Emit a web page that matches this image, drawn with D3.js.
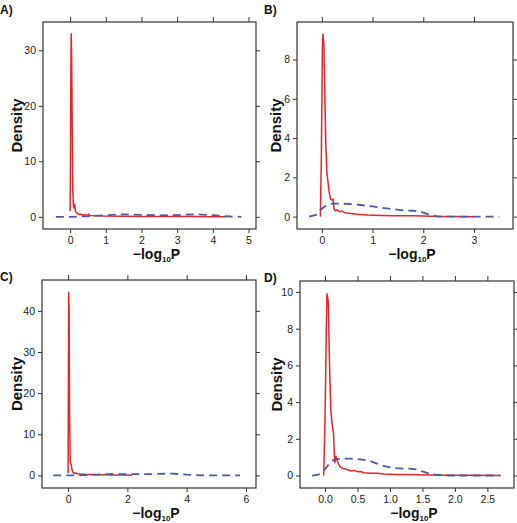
<!DOCTYPE html>
<html><head><meta charset="utf-8">
<script src="https://cdn.jsdelivr.net/npm/d3@7/dist/d3.min.js"></script>
<style>body{margin:0;background:#fff}svg{display:block}</style>
</head><body>
<script>
// ---- data (x = -log10 P, y = density) ----
const redA = [[0.0,1],[0.01,10],[0.02,25],[0.03,33],[0.045,28],[0.06,15],[0.075,5],[0.09,2.2],[0.11,1.6],[0.13,2.3],[0.15,1.0],[0.2,0.6],[0.25,0.4],[0.3,0.45],[0.35,0.3],[0.4,0.35],[0.5,0.3],[0.52,0.5],[0.55,0.25],[0.7,0.2],[1,0.12],[1.5,0.08],[2,0.06],[2.5,0.05],[3,0.04],[3.5,0.03],[4,0.02],[4.4,0.0]];
const blueA = [[-0.4,0],[0,0],[0.5,0.1],[1,0.3],[1.5,0.45],[2,0.35],[2.5,0.25],[3,0.3],[3.5,0.45],[4,0.3],[4.5,0.05],[4.8,0]];
const redB = [[-0.03,0],[-0.01,3],[0.01,8.5],[0.02,9.3],[0.04,8.8],[0.06,6],[0.08,3.5],[0.1,2.2],[0.12,1.8],[0.14,1.3],[0.17,0.9],[0.2,0.85],[0.22,0.9],[0.24,0.4],[0.26,0.3],[0.3,0.35],[0.35,0.25],[0.4,0.28],[0.45,0.2],[0.5,0.18],[0.6,0.15],[0.7,0.12],[0.8,0.1],[0.9,0.08],[1,0.07],[1.2,0.06],[1.4,0.05],[1.6,0.04],[1.8,0.05],[2.0,0.03],[2.3,0.01],[2.6,0.01],[3.0,0]];
const blueB = [[-0.25,0],[-0.1,0.1],[0,0.4],[0.1,0.6],[0.2,0.66],[0.4,0.66],[0.6,0.63],[0.8,0.58],[1.0,0.52],[1.2,0.45],[1.4,0.38],[1.6,0.32],[1.8,0.3],[1.95,0.25],[2.1,0.12],[2.25,0.02],[2.4,0],[3.5,0]];
const redC = [[0,0.5],[0.01,20],[0.02,44.5],[0.035,40],[0.05,15],[0.07,4],[0.09,2.8],[0.11,2.5],[0.13,1.5],[0.16,0.8],[0.2,0.5],[0.25,0.6],[0.3,0.4],[0.4,0.35],[0.5,0.3],[0.6,0.25],[0.8,0.2],[1,0.18],[1.2,0.15],[1.5,0.12],[1.8,0.1],[2.0,0.08],[2.15,0.05]];
const blueC = [[-0.5,0],[0,0],[0.5,0.05],[1,0.2],[1.5,0.35],[2,0.3],[2.5,0.3],[3,0.35],[3.5,0.45],[4,0.2],[4.5,0.03],[5,0],[5.8,0]];
const redD = [[-0.02,0],[0,3],[0.02,8],[0.03,9.9],[0.05,9.5],[0.07,6],[0.09,3.5],[0.11,2.8],[0.13,2.3],[0.15,0.7],[0.17,1.05],[0.19,0.8],[0.21,0.6],[0.24,0.45],[0.28,0.38],[0.32,0.35],[0.36,0.3],[0.4,0.25],[0.45,0.28],[0.5,0.2],[0.55,0.22],[0.6,0.15],[0.7,0.12],[0.8,0.13],[0.9,0.08],[1.0,0.07],[1.1,0.06],[1.2,0.05],[1.4,0.04],[1.6,0.03],[1.8,0.02],[2.0,0.01],[2.3,0.01],[2.7,0]];
const blueD = [[-0.2,0],[-0.1,0.05],[0,0.35],[0.1,0.8],[0.2,0.9],[0.3,0.92],[0.4,0.92],[0.5,0.9],[0.6,0.85],[0.7,0.78],[0.8,0.65],[0.9,0.52],[1.0,0.45],[1.1,0.4],[1.2,0.38],[1.3,0.38],[1.4,0.34],[1.5,0.22],[1.6,0.12],[1.7,0.05],[1.8,0.02],[1.9,0],[2.7,0]];

const panelLabels = ["A)", "B)", "C)", "D)"];
const xTicksA = [0,1,2,3,4,5], yTicksA = [0,10,20,30];
const xTicksB = [0,1,2,3], yTicksB = [0,2,4,6,8];
const xTicksC = [0,2,4,6], yTicksC = [0,10,20,30,40];
const xTicksD = [0,0.5,1,1.5,2,2.5], yTicksD = [0,2,4,6,8,10];
const yLabel = "Density";

// ---- layout ----
const panels = [
  {lab: panelLabels[0], red: redA, blue: blueA, xt: xTicksA, yt: yTicksA, xf: d3.format("d"),
   box: [43,22,256,229], xd: [-0.76,5.21], yd: [-2.2,35.1], lp: [0,14], ylx: 22},
  {lab: panelLabels[1], red: redB, blue: blueB, xt: xTicksB, yt: yTicksB, xf: d3.format("d"),
   box: [297,22,513,229], xd: [-0.49,3.77], yd: [-0.63,9.91], lp: [264,14], ylx: 281},
  {lab: panelLabels[2], red: redC, blue: blueC, xt: xTicksC, yt: yTicksC, xf: d3.format("d"),
   box: [42,280,256,488], xd: [-0.88,6.34], yd: [-3.06,47.5], lp: [0,281], ylx: 22},
  {lab: panelLabels[3], red: redD, blue: blueD, xt: xTicksD, yt: yTicksD, xf: d3.format(".1f"),
   box: [300,281,514,488], xd: [-0.385,2.91], yd: [-0.68,10.6], lp: [264,282], ylx: 282}
];

const svg = d3.select("body").append("svg").attr("width",517).attr("height",523)
  .style("font-family","'Liberation Sans', Arial, Helvetica, sans-serif");

panels.forEach(p => {
  const [x0,y0,x1,y1] = p.box;
  const x = d3.scaleLinear().domain(p.xd).range([x0,x1]);
  const y = d3.scaleLinear().domain(p.yd).range([y1,y0]);
  const g = svg.append("g");

  const styleAxis = (a, labels) => {
    a.select(".domain").remove();
    a.selectAll(".tick line").attr("stroke","#333").attr("stroke-width",1);
    a.selectAll(".tick text").attr("fill","#222").style("font-size","10.5px");
    if (!labels) a.selectAll(".tick text").remove();
  };
  g.append("g").attr("transform",`translate(0,${y1})`)
    .call(d3.axisBottom(x).tickValues(p.xt).tickFormat(p.xf).tickSize(4).tickPadding(4))
    .call(a => styleAxis(a,true));
  g.append("g").attr("transform",`translate(0,${y0})`)
    .call(d3.axisTop(x).tickValues(p.xt).tickSize(5))
    .call(a => styleAxis(a,false));
  g.append("g").attr("transform",`translate(${x0},0)`)
    .call(d3.axisLeft(y).tickValues(p.yt).tickFormat(d3.format("d")).tickSize(4).tickPadding(3))
    .call(a => styleAxis(a,true));
  g.append("g").attr("transform",`translate(${x1},0)`)
    .call(d3.axisRight(y).tickValues(p.yt).tickSize(4))
    .call(a => styleAxis(a,false));

  g.append("rect").attr("x",x0).attr("y",y0).attr("width",x1-x0).attr("height",y1-y0)
    .attr("fill","none").attr("stroke","#333").attr("stroke-width",1.2);

  const line = d3.line().x(d => x(d[0])).y(d => y(d[1]));
  g.append("path").datum(p.red).attr("d",line).attr("fill","none")
    .attr("stroke","#e3262b").attr("stroke-width",1.5).attr("stroke-linejoin","round");
  g.append("path").datum(p.blue).attr("d",line).attr("fill","none")
    .attr("stroke","#4b5ba3").attr("stroke-width",1.8).attr("stroke-dasharray","8,5");

  // panel letter
  svg.append("text").attr("x",p.lp[0]).attr("y",p.lp[1]).text(p.lab)
    .style("font-size","12px").style("font-weight","bold").attr("fill","#111");

  // y label
  svg.append("text").attr("transform",`translate(${p.ylx},${(y0+y1)/2}) rotate(-90)`)
    .attr("text-anchor","middle").text(yLabel)
    .style("font-size","15px").style("font-weight","bold").attr("fill","#111");

  // x label: −log10P
  const t = svg.append("text").attr("x",(x0+x1)/2 + 7).attr("y",y1 + 30)
    .attr("text-anchor","middle").style("font-size","14px").style("font-weight","bold").attr("fill","#111");
  t.append("tspan").text("\u2212log");
  t.append("tspan").text("10").attr("dy",3).style("font-size","8px");
  t.append("tspan").text("P").attr("dy",-3);
});
</script>
</body></html>
